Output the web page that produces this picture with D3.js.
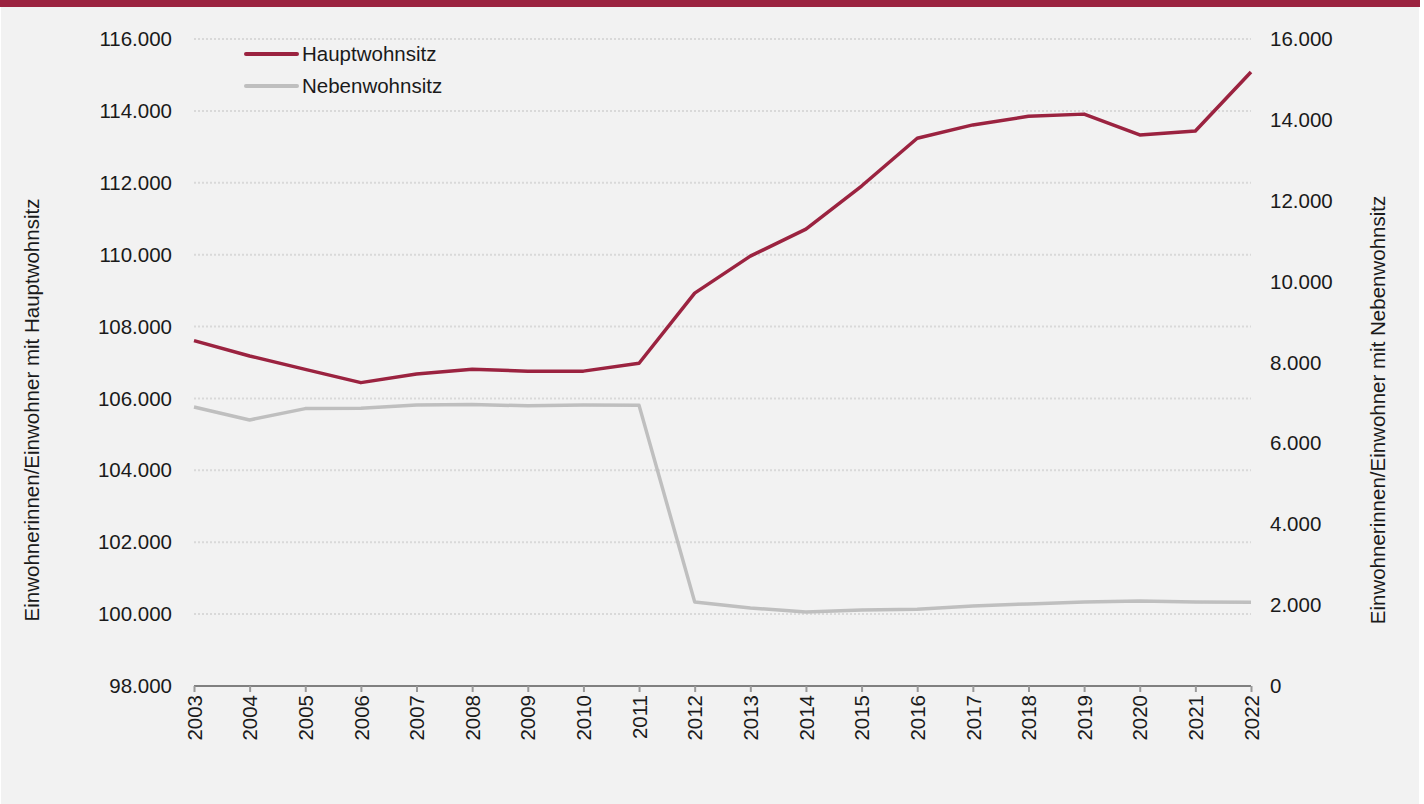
<!DOCTYPE html>
<html>
<head>
<meta charset="utf-8">
<script src="https://cdn.jsdelivr.net/npm/d3@7"></script>
<style>
  body { margin: 0; background: #ffffff; }
  svg { display: block; font-family: "Liberation Sans", Arial, sans-serif; }
</style>
</head>
<body>
<div id="mainDiv"></div>
<script>
'use strict';

// Jahre
var years = [2003, 2004, 2005, 2006, 2007, 2008, 2009, 2010, 2011, 2012,
             2013, 2014, 2015, 2016, 2017, 2018, 2019, 2020, 2021, 2022];

// Einwohner mit Hauptwohnsitz (linke Achse)
var hauptwohnsitz = [107610, 107180, 106810, 106440, 106680, 106810, 106760, 106760, 106980, 108930,
                     109960, 110710, 111910, 113240, 113610, 113850, 113910, 113330, 113440, 115080];

// Einwohner mit Nebenwohnsitz (rechte Achse)
var nebenwohnsitz = [6900, 6580, 6860, 6870, 6950, 6960, 6930, 6950, 6940, 2080,
                     1930, 1830, 1880, 1900, 1980, 2030, 2080, 2100, 2080, 2070];

var leftTicks = [98000, 100000, 102000, 104000, 106000, 108000, 110000, 112000, 114000, 116000];
var rightTicks = [0, 2000, 4000, 6000, 8000, 10000, 12000, 14000, 16000];

var seriesNames = ['Hauptwohnsitz', 'Nebenwohnsitz'];
var colors = ['#9b2340', '#bfbfbf'];

var W = 1424, H = 804;
var plot = {left: 194, right: 1251, top: 39, bottom: 686};
var fontSize = 20.5;

var fmt = function(v) {
    return d3.format(',')(v).replace(/,/g, '.');
};

var svg = d3.select('#mainDiv').append('svg')
    .attr('width', W)
    .attr('height', H);

// Hintergrund
svg.append('rect')
    .attr('x', 1).attr('y', 0)
    .attr('width', 1418).attr('height', H)
    .attr('fill', '#f2f2f2');
svg.append('rect')
    .attr('x', 0).attr('y', 0)
    .attr('width', 1420).attr('height', 7)
    .attr('fill', '#9b2340');

var x = d3.scalePoint().domain(years).range([plot.left, plot.right]);
var yL = d3.scaleLinear().domain([98000, 116000]).range([plot.bottom, plot.top]);
var yR = d3.scaleLinear().domain([0, 16000]).range([plot.bottom, plot.top]);

// Gitterlinien
svg.append('g')
    .selectAll('line')
    .data(leftTicks.slice(1))
    .enter()
    .append('line')
    .attr('x1', plot.left)
    .attr('x2', plot.right)
    .attr('y1', function(d){ return yL(d); })
    .attr('y2', function(d){ return yL(d); })
    .attr('stroke', '#d9d9d9')
    .attr('stroke-width', 2)
    .attr('stroke-dasharray', '2,2');

// linke Achse
var leftAxis = svg.append('g')
    .attr('transform', 'translate(' + plot.left + ',0)')
    .call(d3.axisLeft(yL).tickValues(leftTicks).tickFormat(fmt).tickSize(0).tickPadding(22));
leftAxis.select('.domain').remove();
leftAxis.selectAll('text')
    .attr('font-size', fontSize)
    .attr('fill', '#1a1a1a')
    .attr('font-family', '"Liberation Sans", Arial, sans-serif');

// rechte Achse
var rightAxis = svg.append('g')
    .attr('transform', 'translate(' + plot.right + ',0)')
    .call(d3.axisRight(yR).tickValues(rightTicks).tickFormat(fmt).tickSize(0).tickPadding(19));
rightAxis.select('.domain').remove();
rightAxis.selectAll('text')
    .attr('font-size', fontSize)
    .attr('fill', '#1a1a1a')
    .attr('font-family', '"Liberation Sans", Arial, sans-serif');

// x-Achse
var xAxis = svg.append('g')
    .attr('transform', 'translate(0,' + plot.bottom + ')')
    .call(d3.axisBottom(x).tickSize(6).tickSizeOuter(0));
xAxis.select('.domain')
    .attr('stroke', '#808080')
    .attr('stroke-width', 2)
    .attr('d', 'M' + plot.left + ',0H' + plot.right);
xAxis.selectAll('.tick line')
    .attr('stroke', '#999999')
    .attr('stroke-width', 2);
xAxis.selectAll('text')
    .attr('font-size', fontSize)
    .attr('fill', '#1a1a1a')
    .attr('font-family', '"Liberation Sans", Arial, sans-serif')
    .attr('transform', 'rotate(-90)')
    .attr('text-anchor', 'end')
    .attr('x', -9)
    .attr('y', 0)
    .attr('dy', '0.35em');

// Linien
var lineL = d3.line()
    .x(function(d, i){ return x(years[i]); })
    .y(function(d){ return yL(d); });
var lineR = d3.line()
    .x(function(d, i){ return x(years[i]); })
    .y(function(d){ return yR(d); });

svg.append('path')
    .datum(nebenwohnsitz)
    .attr('d', lineR)
    .attr('fill', 'none')
    .attr('stroke', colors[1])
    .attr('stroke-width', 3.5)
    .attr('stroke-linejoin', 'round');

svg.append('path')
    .datum(hauptwohnsitz)
    .attr('d', lineL)
    .attr('fill', 'none')
    .attr('stroke', colors[0])
    .attr('stroke-width', 3.5)
    .attr('stroke-linejoin', 'round');

// Legende
var legend = svg.append('g');
seriesNames.forEach(function(name, i) {
    var ly = 54 + i * 32;
    legend.append('line')
        .attr('x1', 246).attr('x2', 297)
        .attr('y1', ly).attr('y2', ly)
        .attr('stroke', colors[i])
        .attr('stroke-width', 4)
        .attr('stroke-linecap', 'round');
    legend.append('text')
        .attr('x', 302).attr('y', ly)
        .attr('dy', '0.35em')
        .attr('font-size', fontSize)
        .attr('fill', '#1a1a1a')
        .text(name);
});

// Achsentitel
svg.append('text')
    .attr('transform', 'translate(32,410) rotate(-90)')
    .attr('text-anchor', 'middle')
    .attr('dy', '0.35em')
    .attr('font-size', fontSize)
    .attr('fill', '#1a1a1a')
    .text('Einwohnerinnen/Einwohner mit Hauptwohnsitz');

svg.append('text')
    .attr('transform', 'translate(1378,410) rotate(-90)')
    .attr('text-anchor', 'middle')
    .attr('dy', '0.35em')
    .attr('font-size', fontSize)
    .attr('fill', '#1a1a1a')
    .text('Einwohnerinnen/Einwohner mit Nebenwohnsitz');
</script>
</body>
</html>
